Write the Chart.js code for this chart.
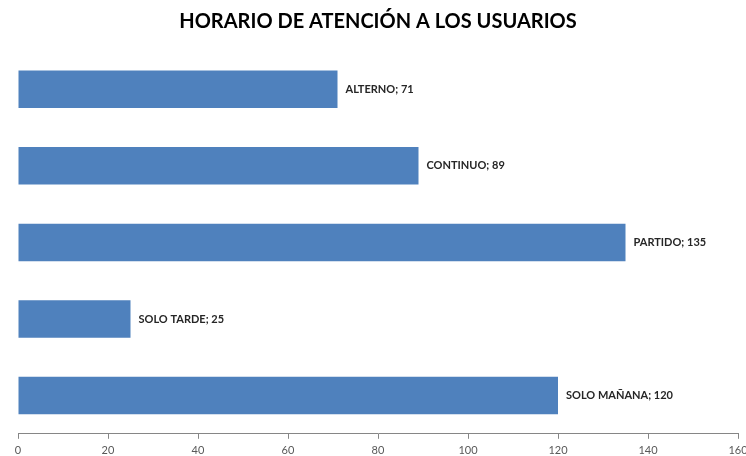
<!DOCTYPE html>
<html>
<head>
<meta charset="utf-8">
<script src="https://cdn.jsdelivr.net/npm/chart.js@4"></script>
<style>
  html, body { margin: 0; padding: 0; background: #fff; }
  #wrap { width: 746px; height: 456px; }
</style>
</head>
<body>
<div id="wrap"><canvas id="horario_chart"></canvas></div>
<script>
// data
var categories = ['ALTERNO', 'CONTINUO', 'PARTIDO', 'SOLO TARDE', 'SOLO MAÑANA'];
var usuarios = [71, 89, 135, 25, 120];
var xTicks = [0, 20, 40, 60, 80, 100, 120, 140, 160];

// "CATEGORIA; valor" label at the end of each bar
var barLabels = {
  id: 'barLabels',
  afterDatasetsDraw: function(chart) {
    var ctx = chart.ctx;
    var meta = chart.getDatasetMeta(0);
    ctx.save();
    ctx.font = 'bold 11px Lato';
    ctx.fillStyle = '#262626';
    ctx.textBaseline = 'middle';
    ctx.textAlign = 'left';
    meta.data.forEach(function(bar, i) {
      ctx.fillText(categories[i] + '; ' + usuarios[i], bar.x + 8, bar.y);
    });
    ctx.restore();
  }
};

var ctx = document.getElementById('horario_chart').getContext('2d');
var chart = new Chart(ctx, {
  type: 'bar',
  data: {
    labels: categories,
    datasets: [{
      label: 'Usuarios',
      data: usuarios,
      backgroundColor: '#4F81BD',
      borderWidth: 0,
      categoryPercentage: 1,
      barPercentage: 0.49
    }]
  },
  options: {
    indexAxis: 'y',
    responsive: true,
    maintainAspectRatio: false,
    animation: false,
    layout: { padding: { left: 18, right: 8, top: 0, bottom: -6 } },
    plugins: {
      legend: { display: false },
      tooltip: { enabled: false },
      title: {
        display: true,
        text: 'HORARIO DE ATENCIÓN A LOS USUARIOS',
        color: '#000',
        font: { family: 'Lato', size: 20, weight: 'bold' },
        padding: { top: 10, bottom: 17 }
      }
    },
    scales: {
      x: {
        min: 0,
        max: 160,
        afterBuildTicks: function(axis) {
          axis.ticks = xTicks.map(function(v) { return { value: v }; });
        },
        // let the "160" label run off the edge like the original
        afterFit: function(axis) {
          axis.paddingLeft = 0;
          axis.paddingRight = 0;
        },
        grid: { drawOnChartArea: false, drawTicks: true, tickLength: 5, color: '#868686' },
        border: { display: true, color: '#868686', width: 1 },
        ticks: { color: '#595959', font: { family: 'Lato', size: 11 }, padding: 5, maxRotation: 0 }
      },
      y: {
        display: false
      }
    }
  },
  plugins: [barLabels]
});
</script>
</body>
</html>
